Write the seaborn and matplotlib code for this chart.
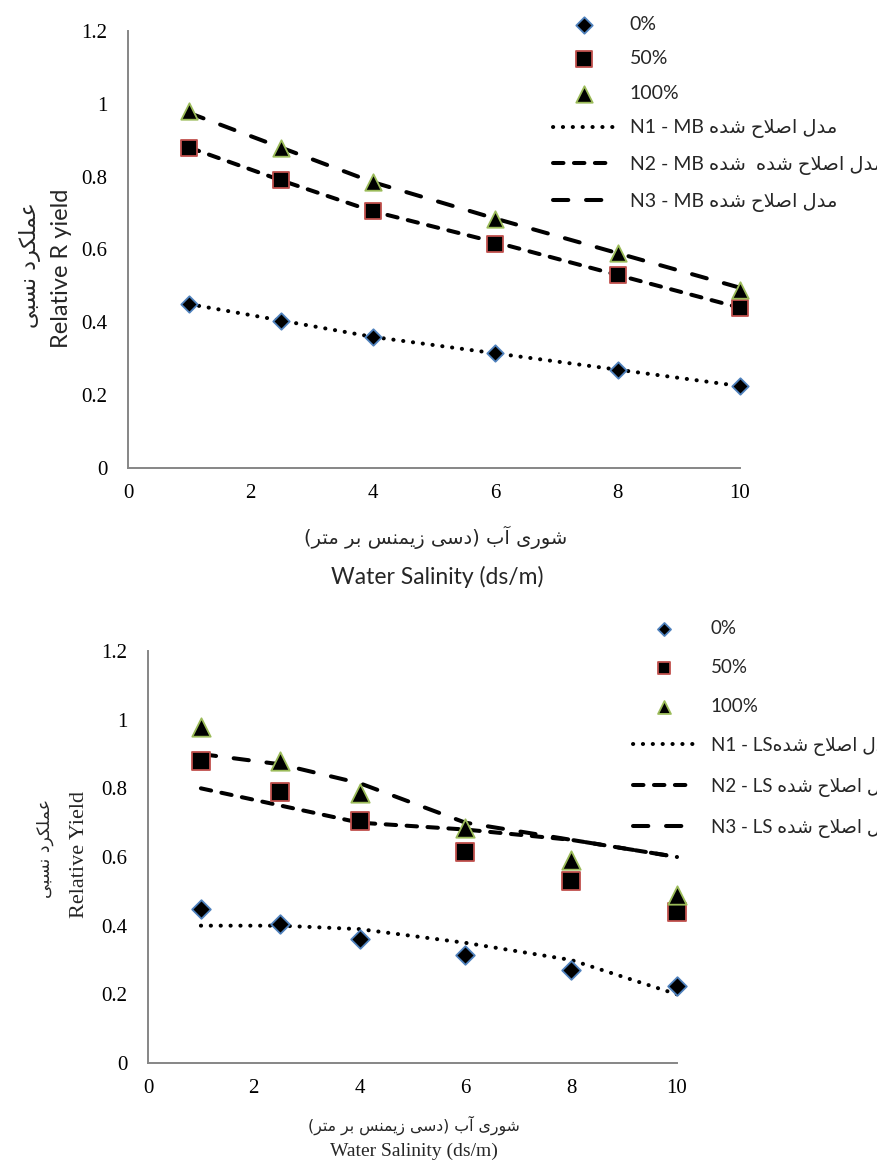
import matplotlib
matplotlib.use("Agg")
import matplotlib.pyplot as plt
import seaborn as sns

# ---- data -------------------------------------------------------------
salinity = [1, 2.5, 4, 6, 8, 10]

obs_0 = [0.45, 0.405, 0.36, 0.315, 0.27, 0.225]
obs_50 = [0.88, 0.79, 0.705, 0.615, 0.53, 0.44]
obs_100 = [0.98, 0.88, 0.785, 0.685, 0.59, 0.49]

# modified model (MB) predictions
mb_n1 = [0.45, 0.405, 0.36, 0.315, 0.27, 0.225]
mb_n2 = [0.88, 0.79, 0.705, 0.62, 0.53, 0.44]
mb_n3 = [0.975, 0.88, 0.785, 0.685, 0.59, 0.495]

# modified model (LS) predictions
ls_n1 = [0.40, 0.40, 0.39, 0.35, 0.30, 0.20]
ls_n2 = [0.80, 0.75, 0.70, 0.68, 0.65, 0.60]
ls_n3 = [0.90, 0.87, 0.815, 0.70, 0.65, 0.60]

x_ticks = [0, 2, 4, 6, 8, 10]
x_tick_labels = ["0", "2", "4", "6", "8", "10"]
y_ticks = [0, 0.2, 0.4, 0.6, 0.8, 1.0, 1.2]
y_tick_labels = ["0", "0.2", "0.4", "0.6", "0.8", "1", "1.2"]

series_labels = ["0%", "50%", "100%"]
fa_model = "مدل اصلاح شده"
fa_model_dup = "مدل اصلاح شده  شده"
fa_xlabel = "شوری آب (دسی زیمنس بر متر)"
fa_ylabel = "عملکرد نسبی"

# ---- Persian shaping (contextual forms + right-to-left order) ----------
AR_FORMS = {
    "ا": ("\uFE8D", "\uFE8E", None, None),
    "آ": ("\uFE81", "\uFE82", None, None),
    "ب": ("\uFE8F", "\uFE90", "\uFE91", "\uFE92"),
    "ت": ("\uFE95", "\uFE96", "\uFE97", "\uFE98"),
    "ح": ("\uFEA1", "\uFEA2", "\uFEA3", "\uFEA4"),
    "د": ("\uFEA9", "\uFEAA", None, None),
    "ر": ("\uFEAD", "\uFEAE", None, None),
    "ز": ("\uFEAF", "\uFEB0", None, None),
    "س": ("\uFEB1", "\uFEB2", "\uFEB3", "\uFEB4"),
    "ش": ("\uFEB5", "\uFEB6", "\uFEB7", "\uFEB8"),
    "ص": ("\uFEB9", "\uFEBA", "\uFEBB", "\uFEBC"),
    "ع": ("\uFEC9", "\uFECA", "\uFECB", "\uFECC"),
    "ل": ("\uFEDD", "\uFEDE", "\uFEDF", "\uFEE0"),
    "م": ("\uFEE1", "\uFEE2", "\uFEE3", "\uFEE4"),
    "ن": ("\uFEE5", "\uFEE6", "\uFEE7", "\uFEE8"),
    "ه": ("\uFEE9", "\uFEEA", "\uFEEB", "\uFEEC"),
    "و": ("\uFEED", "\uFEEE", None, None),
    "ی": ("\uFBFC", "\uFBFD", "\uFBFE", "\uFBFF"),
    "ک": ("\uFB8E", "\uFB8F", "\uFB90", "\uFB91"),
}
LAM_ALEF = ("\uFEFB", "\uFEFC", None, None)
MIRROR = {"(": ")", ")": "("}


def shape_rtl(text):
    units = []
    i = 0
    while i < len(text):
        if text[i] == "ل" and i + 1 < len(text) and text[i + 1] == "ا":
            units.append("LA")
            i += 2
        else:
            units.append(text[i])
            i += 1

    def forms_of(u):
        return LAM_ALEF if u == "LA" else AR_FORMS.get(u)

    glyphs = []
    for k, u in enumerate(units):
        forms = forms_of(u)
        if forms is None:
            glyphs.append(MIRROR.get(u, u))
            continue
        prev = forms_of(units[k - 1]) if k > 0 else None
        nxt = forms_of(units[k + 1]) if k + 1 < len(units) else None
        join_prev = prev is not None and prev[2] is not None
        join_next = forms[2] is not None and nxt is not None
        if join_prev and join_next:
            glyphs.append(forms[3])
        elif join_prev:
            glyphs.append(forms[1])
        elif join_next:
            glyphs.append(forms[2])
        else:
            glyphs.append(forms[0])
    return "".join(reversed(glyphs))


# ---- style -------------------------------------------------------------
sns.set_theme(style="white")
plt.rcParams["font.family"] = ["Liberation Serif", "DejaVu Sans"]

W, H = 878, 1165
fig = plt.figure(figsize=(W / 100, H / 100), dpi=100)
fig.patch.set_facecolor("white")

SANS = ["Lato", "DejaVu Sans"]
SERIF = ["Liberation Serif", "DejaVu Sans"]
FA = ["DejaVu Sans"]
AXIS_GREY = "#868686"

marker_specs = [
    ("D", "#4F81BD"),
    ("s", "#C0504D"),
    ("^", "#9BBB59"),
]
LW = 2.9
line_styles = [
    (0, (0.05, 2.4)),   # dotted
    (0, (2.6, 2.6)),    # short dash
    (0, (3.8, 4.4)),    # long dash
]


def fig_axes(left, top, right, bottom):
    return fig.add_axes([left / W, 1 - bottom / H, (right - left) / W, (bottom - top) / H])


def style_axes(ax):
    ax.set_xlim(0, 10)
    ax.set_ylim(0, 1.2)
    ax.set_xticks(x_ticks)
    ax.set_xticklabels(x_tick_labels, family=SERIF, fontsize=15)
    ax.set_yticks(y_ticks)
    ax.set_yticklabels(y_tick_labels, family=SERIF, fontsize=15)
    for side in ("top", "right"):
        ax.spines[side].set_visible(False)
    for side in ("left", "bottom"):
        ax.spines[side].set_color(AXIS_GREY)
        ax.spines[side].set_linewidth(1.4)
    ax.tick_params(axis="both", direction="out", length=3.8, width=1.2,
                   color=AXIS_GREY, labelcolor="black")
    ax.tick_params(axis="y", pad=11)
    ax.tick_params(axis="x", pad=8)
    ax.set_xlabel("")
    ax.set_ylabel("")
    ax.grid(False)
    ax.set_facecolor("white")


def draw_panel(ax, models, model_labels, sizes):
    for obs, (mk, edge), lab, s in zip([obs_0, obs_50, obs_100], marker_specs,
                                       series_labels, sizes):
        sns.scatterplot(x=salinity, y=obs, marker=mk, s=s, color="black",
                        edgecolor=edge, linewidth=1.3, label=lab, ax=ax,
                        zorder=4, clip_on=False)
    for vals, ls, lab in zip(models, line_styles, model_labels):
        sns.lineplot(x=salinity, y=vals, color="black", linewidth=LW,
                     linestyle=ls, dash_capstyle="round", label=lab,
                     ax=ax, zorder=3, clip_on=False)
    style_axes(ax)


# ---- top panel (MB) ------------------------------------------------------
ax1 = fig_axes(128, 31, 740, 468)
mb_labels = [
    "N1 - MB " + shape_rtl(fa_model),
    "N2 - MB " + shape_rtl(fa_model_dup),
    "N3 - MB " + shape_rtl(fa_model),
]
draw_panel(ax1, [mb_n1, mb_n2, mb_n3], mb_labels, [70, 130, 140])
h, l = ax1.get_legend_handles_labels()
ax1.legend(h, l, loc="upper left", bbox_to_anchor=(553 / W, 1 - 16 / H),
           bbox_transform=fig.transFigure, frameon=False, borderpad=0,
           borderaxespad=0, handlelength=3.2, handletextpad=0.75,
           labelspacing=0.9, prop={"family": SANS, "size": 14},
           markerscale=1.0)

fig.text(436 / W, 1 - 537 / H, shape_rtl(fa_xlabel), family=FA, fontsize=14,
         ha="center", va="center")
fig.text(437 / W, 1 - 577 / H, "Water Salinity (ds/m)", family=SANS, fontsize=16.5,
         ha="center", va="center")
fig.text(30 / W, 1 - 265 / H, shape_rtl(fa_ylabel), family=FA, fontsize=16,
         rotation=90, ha="center", va="center")
fig.text(62 / W, 1 - 268 / H, "Relative R yield", family=SANS, fontsize=17,
         rotation=90, ha="center", va="center")

# ---- bottom panel (LS) ---------------------------------------------------
ax2 = fig_axes(148, 651, 677, 1063)
ls_labels = [
    "N1 - LS" + shape_rtl(fa_model),
    "N2 - LS " + shape_rtl(fa_model),
    "N3 - LS " + shape_rtl(fa_model),
]
draw_panel(ax2, [ls_n1, ls_n2, ls_n3], ls_labels, [90, 175, 175])
h, l = ax2.get_legend_handles_labels()
ax2.legend(h, l, loc="upper left", bbox_to_anchor=(633 / W, 1 - 620 / H),
           bbox_transform=fig.transFigure, frameon=False, borderpad=0,
           borderaxespad=0, handlelength=3.3, handletextpad=0.85,
           labelspacing=1.17, prop={"family": SANS, "size": 13.5},
           markerscale=0.7)

fig.text(414 / W, 1 - 1125 / H, shape_rtl(fa_xlabel), family=FA, fontsize=11.3,
         ha="center", va="center")
fig.text(414 / W, 1 - 1151 / H, "Water Salinity (ds/m)", family=SERIF, fontsize=14,
         ha="center", va="center")
fig.text(45 / W, 1 - 848 / H, shape_rtl(fa_ylabel), family=FA, fontsize=12.5,
         rotation=90, ha="center", va="center")
fig.text(80 / W, 1 - 855 / H, "Relative Yield", family=SERIF, fontsize=16,
         rotation=90, ha="center", va="center")

fig.savefig("out.png", dpi=100, facecolor="white")
